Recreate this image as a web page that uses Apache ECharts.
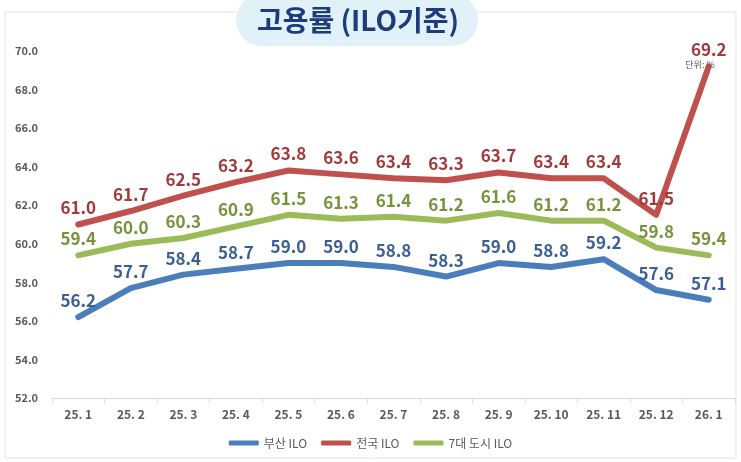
<!DOCTYPE html>
<html>
<head>
    <meta charset="utf-8">
    <script src="https://cdn.jsdelivr.net/npm/echarts@6/dist/echarts.min.js"></script>
    <style>
        * { margin: 0; padding: 0; box-sizing: border-box; }
        body { background: #fff; }
        #chart { width: 741px; height: 462px; }
    </style>
</head>
<body>
    <div id="chart"></div>
    <script>
        // 월별 데이터
        const months = ['25. 1', '25. 2', '25. 3', '25. 4', '25. 5', '25. 6', '25. 7', '25. 8', '25. 9', '25. 10', '25. 11', '25. 12', '26. 1'];
        const seriesNames = ['부산 ILO', '전국 ILO', '7대 도시 ILO'];
        const busan = [56.2, 57.7, 58.4, 58.7, 59.0, 59.0, 58.8, 58.3, 59.0, 58.8, 59.2, 57.6, 57.1];
        const national = [61.0, 61.7, 62.5, 63.2, 63.8, 63.6, 63.4, 63.3, 63.7, 63.4, 63.4, 61.5, 69.2];
        const sevenCities = [59.4, 60.0, 60.3, 60.9, 61.5, 61.3, 61.4, 61.2, 61.6, 61.2, 61.2, 59.8, 59.4];

        const font = '"Noto Sans CJK KR", "Noto Sans", sans-serif';

        // 라벨을 보이게 하려면 심볼이 필요함 (선 두께 아래로 숨김)
        const makeSeries = (name, data, lineColor, labelColor) => ({
            name: name,
            type: 'line',
            data: data,
            symbol: 'circle',
            symbolSize: 2,
            showSymbol: true,
            lineStyle: { width: 6, color: lineColor, cap: 'round', join: 'round' },
            itemStyle: { color: lineColor },
            label: {
                show: true,
                position: 'top',
                distance: 7,
                color: labelColor,
                fontSize: 17,
                fontWeight: 'bold',
                fontFamily: font,
                formatter: p => p.value.toFixed(1)
            },
            labelLayout: { hideOverlap: false }
        });

        const chart = echarts.init(document.getElementById('chart'));
        chart.setOption({
            animation: false,
            graphic: [
                {
                    type: 'rect',
                    shape: { x: 5, y: 12, width: 731, height: 446 },
                    style: { fill: 'none', stroke: '#e3e3e3', lineWidth: 1 },
                    z: 0
                },
                {
                    type: 'rect',
                    shape: { x: 236, y: -6, width: 242, height: 52, r: 26 },
                    style: { fill: '#e1f1f8' },
                    z: 1
                },
                {
                    type: 'text',
                    x: 358,
                    y: 20,
                    style: {
                        text: '고용률 (ILO기준)',
                        fill: '#1d3c7c',
                        font: 'bold 28px ' + font,
                        textAlign: 'center',
                        textVerticalAlign: 'middle'
                    },
                    z: 2
                },
                {
                    type: 'text',
                    x: 700,
                    y: 65,
                    style: {
                        text: '단위: %',
                        fill: '#595959',
                        font: '9px ' + font,
                        textAlign: 'center',
                        textVerticalAlign: 'middle'
                    },
                    z: 5
                }
            ],
            legend: {
                data: seriesNames,
                bottom: 8,
                left: 'center',
                itemWidth: 30,
                itemHeight: 5,
                itemGap: 14,
                icon: 'roundRect',
                textStyle: { color: '#595959', fontSize: 12, fontFamily: font }
            },
            grid: { left: 52, right: 6, top: 51, bottom: 64 },
            xAxis: {
                type: 'category',
                data: months,
                boundaryGap: true,
                axisLine: { lineStyle: { color: '#d9d9d9' } },
                axisTick: { show: true, length: 5, lineStyle: { color: '#d9d9d9' } },
                axisLabel: { color: '#595959', fontSize: 12, fontWeight: 'bold', fontFamily: font, margin: 10 }
            },
            yAxis: {
                type: 'value',
                min: 52,
                max: 70,
                interval: 2,
                axisLine: { show: false },
                axisTick: { show: false },
                splitLine: { show: false },
                axisLabel: {
                    color: '#595959',
                    fontSize: 11,
                    fontWeight: 'bold',
                    fontFamily: font,
                    margin: 14,
                    formatter: v => v.toFixed(1)
                }
            },
            series: [
                makeSeries(seriesNames[0], busan, '#4a7ebb', '#3b5f94'),
                makeSeries(seriesNames[1], national, '#c0504d', '#a23a3a'),
                makeSeries(seriesNames[2], sevenCities, '#9bbb59', '#76933c')
            ]
        });
    </script>
</body>
</html>
